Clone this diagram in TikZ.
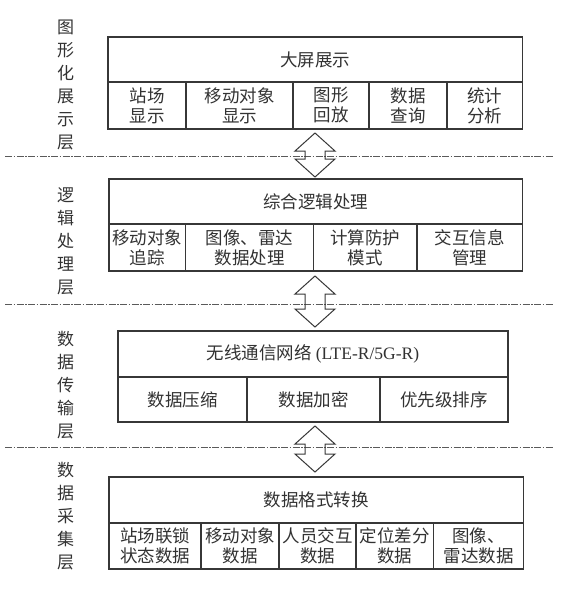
\documentclass[tikz,border=0pt]{standalone}
\usepackage{fontspec}
\setmainfont{Liberation Serif}
\newfontfamily\cjk{Noto Sans CJK SC}
\usetikzlibrary{calc}
\definecolor{framecol}{RGB}{55,55,55}
\definecolor{textcol}{RGB}{50,50,50}
\definecolor{sepcol}{RGB}{90,90,90}
\tikzset{
  cellbox/.style={draw=framecol,line width=1.2pt,inner sep=0pt,align=center,text=textcol,font=\cjk\fontsize{17.5}{20}\selectfont},
  layerlabel/.style={align=center,text=textcol,inner sep=0pt,font=\cjk\fontsize{17}{23}\selectfont},
  layersep/.style={draw=sepcol,line width=1pt,dash pattern=on 7pt off 1.5pt on 1.5pt off 1.5pt},
  twoway/.style={draw=framecol,line width=1pt,line join=miter}
}

\begin{document}
\begin{tikzpicture}[x=1pt,y=-1pt]
\useasboundingbox (0,0) rectangle (570,595);
% ---- graphic display layer ----
\node[layerlabel] (Lab1) at (65.5,85) {图\\形\\化\\展\\示\\层};
\node[cellbox,minimum width=414.5pt,minimum height=45pt] (Gt) at (315.25,59.5) {大屏展示};
\foreach \n/\a/\b/\t in {1/108/186/{站场\\显示},2/186/293/{移动对象\\显示},3/293/369/{图形\\回放},4/369/447/{数据\\查询},5/447/522.5/{统计\\分析}}{
  \node[cellbox,minimum width={(\b-\a)*1pt},minimum height=47pt] (G\n) at ({(\a+\b)/2},105.5) {\t};}
% ---- logic processing layer ----
\node[layerlabel] (Lab2) at (65.5,241) {逻\\辑\\处\\理\\层};
\node[cellbox,minimum width=413.5pt,minimum height=45pt] (Pt) at (315.75,201.5) {综合逻辑处理};
\foreach \n/\a/\b/\t in {1/109/185.5/{移动对象\\追踪},2/185.5/313.5/{图像、雷达\\数据处理},3/313.5/417/{计算防护\\模式},4/417/522.5/{交互信息\\管理}}{
  \node[cellbox,minimum width={(\b-\a)*1pt},minimum height=47pt] (P\n) at ({(\a+\b)/2},247.5) {\t};}
% ---- data transmission layer ----
\node[layerlabel] (Lab3) at (65.5,385) {数\\据\\传\\输\\层};
\node[cellbox,minimum width=390pt,minimum height=46pt] (Tt) at (313,354) {无线通信网络 {\rmfamily(LTE-R/5G-R)}};
\foreach \n/\a/\b/\t in {1/118/247/数据压缩,2/247/380/数据加密,3/380/508/优先级排序}{
  \node[cellbox,minimum width={(\b-\a)*1pt},minimum height=45pt] (T\n) at ({(\a+\b)/2},399.5) {\t};}
% ---- data acquisition layer ----
\node[layerlabel] (Lab4) at (65.5,516.5) {数\\据\\采\\集\\层};
\node[cellbox,minimum width=414.5pt,minimum height=46pt] (Ct) at (316.25,500) {数据格式转换};
\foreach \n/\a/\b/\t in {1/109/201/{站场联锁\\状态数据},2/201/279/{移动对象\\数据},3/279/356/{人员交互\\数据},4/356/433.5/{定位差分\\数据},5/433.5/523.5/{图像、\\雷达数据}}{
  \node[cellbox,minimum width={(\b-\a)*1pt},minimum height=46pt] (C\n) at ({(\a+\b)/2},546) {\t};}
% ---- layer separators and two-way arrows ----
\foreach \y in {156,304,447}{
  \draw[layersep] (5,\y) -- (554,\y);}
\foreach \ya/\yb in {133/177,276/327,426/472}{
  \draw[twoway] (315,\ya) -- ++(20,18) -- ++(-10,0) -- (325,{\yb-18}) -- ++(10,0) -- (315,\yb)
    -- ++(-20,-18) -- ++(10,0) -- (305,{\ya+18}) -- ++(-10,0) -- cycle;}
\end{tikzpicture}
\end{document}
